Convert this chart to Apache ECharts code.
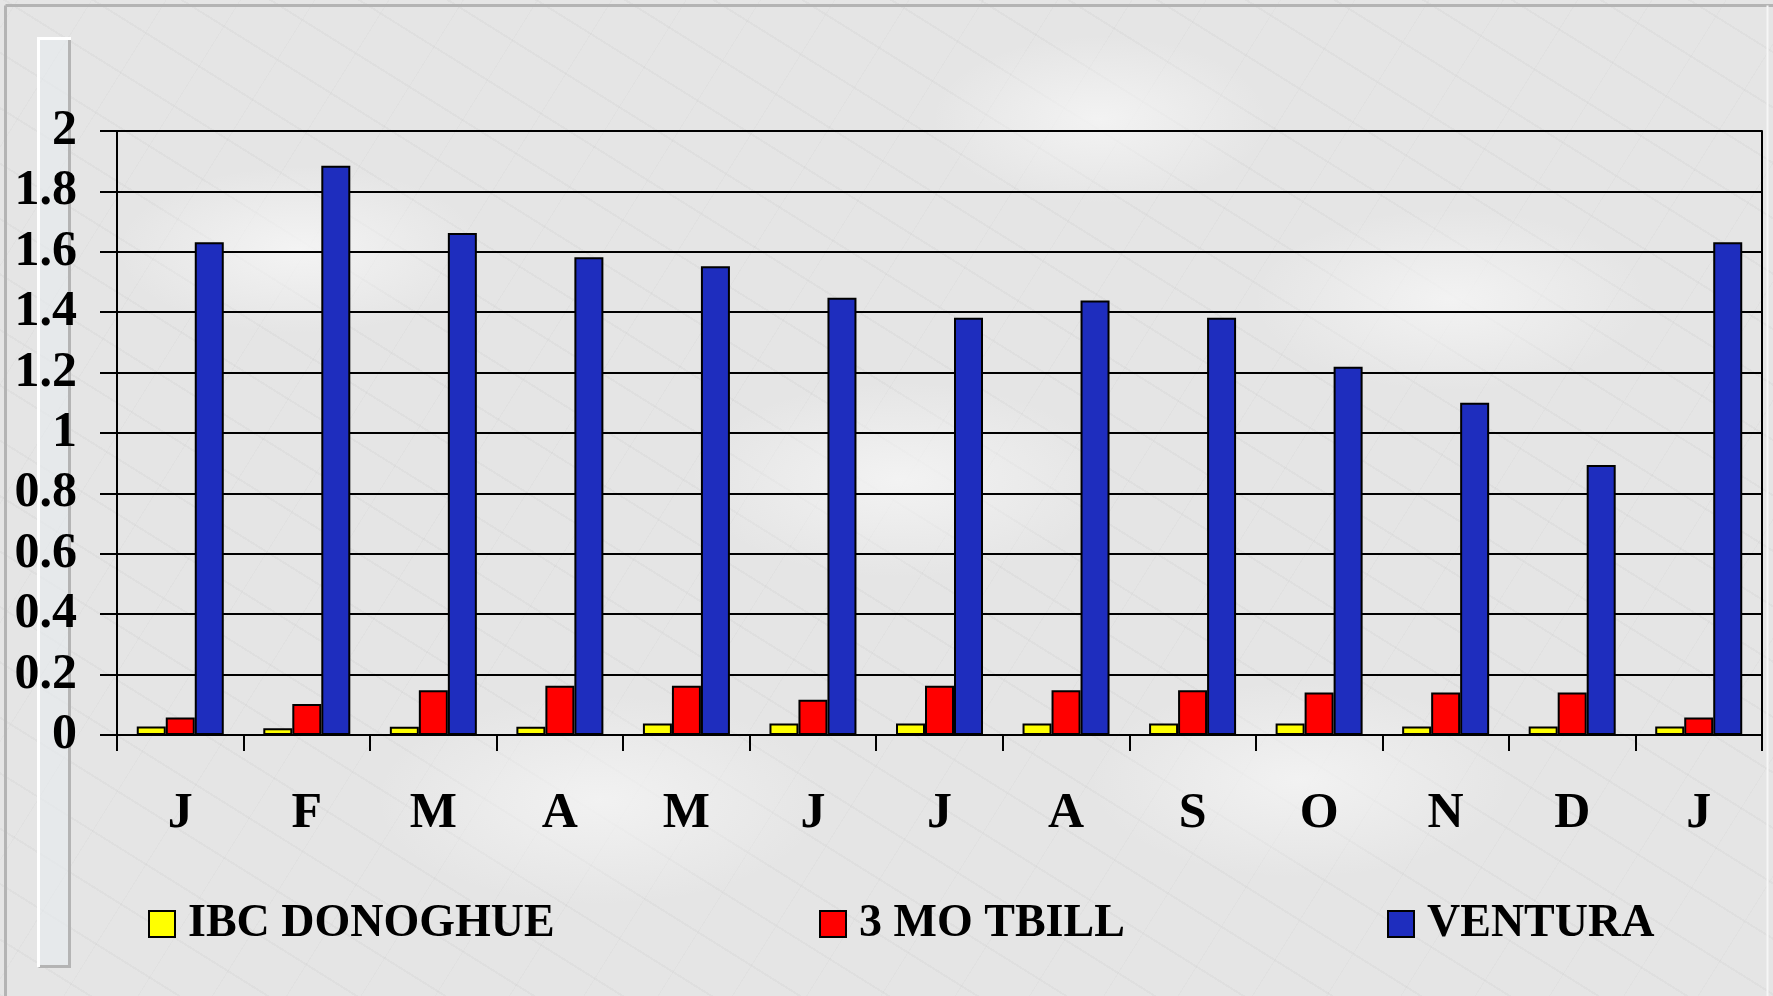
<!DOCTYPE html>
<html>
<head>
<meta charset="utf-8">
<script src="https://cdn.jsdelivr.net/npm/echarts@6/dist/echarts.min.js"></script>
<style>
html,body{margin:0;padding:0;width:1773px;height:996px;overflow:hidden;}
body{
  background-color:#e5e5e5;
  background-image:
    radial-gradient(ellipse 260px 120px at 300px 250px, rgba(245,245,245,0.9), rgba(245,245,245,0) 70%),
    radial-gradient(ellipse 300px 140px at 900px 480px, rgba(244,244,244,0.9), rgba(244,244,244,0) 70%),
    radial-gradient(ellipse 280px 130px at 1450px 300px, rgba(244,244,244,0.9), rgba(244,244,244,0) 70%),
    radial-gradient(ellipse 320px 150px at 600px 800px, rgba(243,243,243,0.9), rgba(243,243,243,0) 70%),
    radial-gradient(ellipse 300px 140px at 1300px 780px, rgba(243,243,243,0.9), rgba(243,243,243,0) 70%),
    radial-gradient(ellipse 240px 120px at 1100px 120px, rgba(244,244,244,0.9), rgba(244,244,244,0) 70%),
    repeating-linear-gradient(32deg, rgba(170,170,170,0.10) 0px, rgba(170,170,170,0.10) 2px, rgba(0,0,0,0) 2px, rgba(0,0,0,0) 47px),
    repeating-linear-gradient(-58deg, rgba(170,170,170,0.07) 0px, rgba(170,170,170,0.07) 1px, rgba(0,0,0,0) 1px, rgba(0,0,0,0) 63px);
}
#chart{width:1773px;height:996px;}
</style>
</head>
<body>
<div id="chart"></div>
<script>
var categories = ['J','F','M','A','M','J','J','A','S','O','N','D','J'];
var ibcDonoghue = [0.028,0.022,0.027,0.027,0.038,0.038,0.038,0.038,0.038,0.038,0.028,0.028,0.028];
var tbill3mo = [0.058,0.103,0.148,0.163,0.163,0.117,0.163,0.148,0.148,0.141,0.141,0.141,0.058];
var ventura = [1.632,1.885,1.662,1.582,1.552,1.448,1.382,1.439,1.382,1.219,1.100,0.894,1.632];
var seriesNames = ['IBC DONOGHUE','3 MO TBILL','VENTURA'];

var FONT = "'Times New Roman','Liberation Serif',serif";
var chart = echarts.init(document.getElementById('chart'), null, {renderer:'canvas'});

function legendFor(name, left){
  return {
    data:[name], left:left, top:901, padding:0,
    itemWidth:26, itemHeight:26, icon:'rect',
    textStyle:{fontFamily:FONT,fontWeight:'bold',fontSize:46,color:'#000',lineHeight:46,padding:[0,0,0,8]}
  };
}
function barSeries(name, data, color){
  return {
    name:name, type:'bar', data:data, barWidth:29, barGap:'0%',
    itemStyle:{color:color,borderColor:'#000',borderWidth:2},
    emphasis:{disabled:true}, animation:false
  };
}

chart.setOption({
  backgroundColor:'transparent',
  animation:false,
  graphic:[
    {type:'line',shape:{x1:5.5,y1:5.5,x2:1773,y2:5.5},style:{stroke:'#b4b4b4',lineWidth:3},silent:true},
    {type:'line',shape:{x1:5.5,y1:5.5,x2:5.5,y2:996},style:{stroke:'#b4b4b4',lineWidth:3},silent:true},
    {type:'line',shape:{x1:1767.5,y1:5.5,x2:1767.5,y2:996},style:{stroke:'#f6f6f6',lineWidth:2},silent:true},
    {type:'rect',shape:{x:38.5,y:38.5,width:31,height:928},style:{fill:'rgba(232,236,240,0.55)',stroke:null},silent:true},
    {type:'line',shape:{x1:69.5,y1:38.5,x2:69.5,y2:967},style:{stroke:'#b4b4b4',lineWidth:3},silent:true},
    {type:'line',shape:{x1:38.5,y1:966.5,x2:71,y2:966.5},style:{stroke:'#b4b4b4',lineWidth:3},silent:true},
    {type:'line',shape:{x1:38.5,y1:38.5,x2:38.5,y2:967},style:{stroke:'#ffffff',lineWidth:3},silent:true},
    {type:'line',shape:{x1:37,y1:38.5,x2:71,y2:38.5},style:{stroke:'#ffffff',lineWidth:3},silent:true}
  ],
  grid:{left:117,right:11,top:131,bottom:261,containLabel:false},
  legend:[
    legendFor(seriesNames[0],148),
    legendFor(seriesNames[1],819),
    legendFor(seriesNames[2],1387)
  ],
  xAxis:{
    type:'category', data:categories, boundaryGap:true,
    axisLine:{show:true,lineStyle:{color:'#000',width:2}},
    axisTick:{show:true,length:16,lineStyle:{color:'#000',width:2}},
    axisLabel:{margin:54,fontFamily:FONT,fontWeight:'bold',fontSize:50,color:'#000',lineHeight:50,interval:0},
    splitLine:{show:false}
  },
  yAxis:[{
    type:'value', min:0, max:2, interval:0.2, position:'left',
    axisLine:{show:true,lineStyle:{color:'#000',width:2}},
    axisTick:{show:true,length:17,lineStyle:{color:'#000',width:2}},
    axisLabel:{margin:40,fontFamily:FONT,fontWeight:'bold',fontSize:50,color:'#000'},
    splitLine:{show:true,lineStyle:{color:'#000',width:2}}
  },{
    type:'value', min:0, max:2, interval:0.2, position:'right',
    axisLine:{show:true,lineStyle:{color:'#000',width:2}},
    axisTick:{show:false}, axisLabel:{show:false}, splitLine:{show:false}
  }],
  series:[
    barSeries(seriesNames[0], ibcDonoghue, '#FFFF00'),
    barSeries(seriesNames[1], tbill3mo, '#FF0000'),
    barSeries(seriesNames[2], ventura, '#1E2DBE')
  ]
});
</script>
</body>
</html>
